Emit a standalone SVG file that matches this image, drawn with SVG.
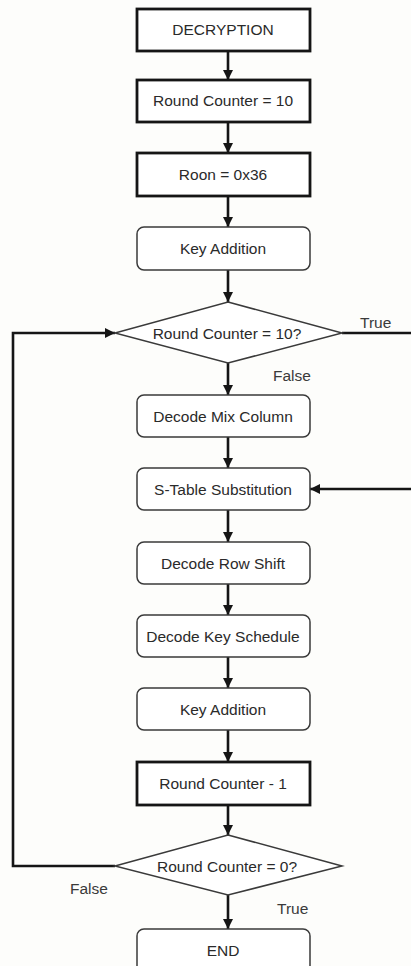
<svg xmlns="http://www.w3.org/2000/svg" width="411" height="966" viewBox="0 0 411 966">
<style>
.bg{fill:#fdfdfb}
.sq{fill:#ffffff;stroke:#151515;stroke-width:2.8}
.rd{fill:#ffffff;stroke:#3a3a3a;stroke-width:1.5}
.dm{fill:#ffffff;stroke:#3a3a3a;stroke-width:1.5}
.t{font-family:"Liberation Sans",Arial,sans-serif;font-size:15.5px;fill:#2a2a2a;text-anchor:middle}
.lb{font-family:"Liberation Sans",Arial,sans-serif;font-size:15.5px;fill:#3a3a3a}
.c{fill:none;stroke:#151515;stroke-width:2.6}
</style>
<defs>
<marker id="ah" markerUnits="userSpaceOnUse" markerWidth="11" markerHeight="11" refX="10" refY="5" orient="auto">
<path d="M0,0 L10,5 L0,10 z" fill="#151515"/>
</marker>
</defs>
<rect class="bg" x="0" y="0" width="411" height="966"/>
<g id="connectors">
<path class="c" d="M228,51 V80" marker-end="url(#ah)"/>
<path class="c" d="M228,122 V153" marker-end="url(#ah)"/>
<path class="c" d="M228,196 V227" marker-end="url(#ah)"/>
<path class="c" d="M228,270 V302" marker-end="url(#ah)"/>
<path class="c" d="M228,363 V395" marker-end="url(#ah)"/>
<path class="c" d="M228,437 V468" marker-end="url(#ah)"/>
<path class="c" d="M228,510 V542" marker-end="url(#ah)"/>
<path class="c" d="M228,584 V615" marker-end="url(#ah)"/>
<path class="c" d="M228,657 V688" marker-end="url(#ah)"/>
<path class="c" d="M228,730 V762" marker-end="url(#ah)"/>
<path class="c" d="M228,805 V835" marker-end="url(#ah)"/>
<path class="c" d="M228,895 V929" marker-end="url(#ah)"/>
<path class="c" d="M342,333 H415 V489 H310" marker-end="url(#ah)"/>
<path class="c" d="M115,866 H13 V333 H115" marker-end="url(#ah)"/>
<text class="lb" x="360" y="328">True</text>
<text class="lb" x="273" y="381">False</text>
<text class="lb" x="70" y="894">False</text>
<text class="lb" x="277" y="914">True</text>
</g>
<g id="n-decryption"><rect class="sq" x="137" y="9" width="173" height="42"/><text class="t" x="223" y="35">DECRYPTION</text></g>
<g id="n-rc10"><rect class="sq" x="137" y="80" width="173" height="42"/><text class="t" x="223" y="106">Round Counter = 10</text></g>
<g id="n-rcon"><rect class="sq" x="137" y="153" width="173" height="43"/><text class="t" x="223" y="180">Roon = 0x36</text></g>
<g id="n-keyadd1"><rect class="rd" x="137" y="227" width="173" height="43" rx="7"/><text class="t" x="223" y="254">Key Addition</text></g>
<g id="n-dec1"><polygon class="dm" points="228,302 342,333 228,363 115,333"/><text class="t" x="227" y="339">Round Counter = 10?</text></g>
<g id="n-mixcol"><rect class="rd" x="137" y="395" width="173" height="42" rx="7"/><text class="t" x="223" y="422">Decode Mix Column</text></g>
<g id="n-stable"><rect class="rd" x="137" y="468" width="173" height="42" rx="7"/><text class="t" x="223" y="495">S-Table Substitution</text></g>
<g id="n-rowshift"><rect class="rd" x="137" y="542" width="173" height="42" rx="7"/><text class="t" x="223" y="569">Decode Row Shift</text></g>
<g id="n-keysched"><rect class="rd" x="137" y="615" width="173" height="42" rx="7"/><text class="t" x="223" y="642">Decode Key Schedule</text></g>
<g id="n-keyadd2"><rect class="rd" x="137" y="688" width="173" height="42" rx="7"/><text class="t" x="223" y="715">Key Addition</text></g>
<g id="n-rcminus"><rect class="sq" x="137" y="762" width="173" height="43"/><text class="t" x="223" y="789">Round Counter - 1</text></g>
<g id="n-dec2"><polygon class="dm" points="228,835 342,866 228,895 115,866"/><text class="t" x="227" y="872">Round Counter = 0?</text></g>
<g id="n-end"><rect class="rd" x="137" y="929" width="173" height="44" rx="7"/><text class="t" x="223" y="956">END</text></g>
</svg>
